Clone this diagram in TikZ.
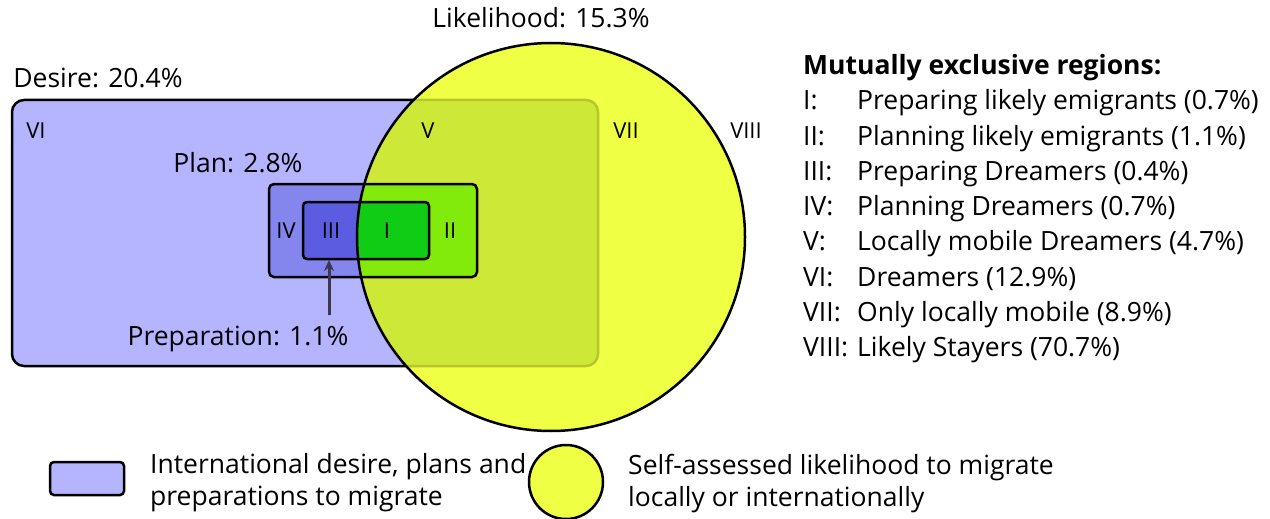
\documentclass[tikz,border=0pt]{standalone}
\usepackage{fontspec}
\setmainfont{Open Sans}
\usetikzlibrary{arrows.meta}
\definecolor{desirefill}{HTML}{B4B4FF}
\definecolor{likelyfill}{HTML}{EEFF44}
\definecolor{overlapfill}{HTML}{CEE838}
\definecolor{overlapline}{HTML}{B4C82C}
\definecolor{planout}{HTML}{8585EE}
\definecolor{planin}{HTML}{82EB0C}
\definecolor{prepout}{HTML}{5C5CE0}
\definecolor{prepin}{HTML}{10CC14}
\definecolor{arrowgray}{HTML}{3A3A4A}
\begin{document}
\begin{tikzpicture}[x=1pt, y=-1pt,
    lbl/.style={font=\fontsize{26.5}{31}\selectfont, inner sep=0pt, anchor=base},
    region/.style={font=\fontsize{22}{26}\selectfont, inner sep=0pt, anchor=base},
    item/.style={font=\fontsize{26.5}{31}\selectfont, inner sep=0pt, anchor=base west},
    outline/.style={line width=2.5pt}]
    \useasboundingbox (0,0) rectangle (1270,519);

    \coordinate (ctr) at (551,237);
    \coordinate (desireA) at (12,100);
    \coordinate (desireB) at (598,366);
    \coordinate (planA) at (269,184);
    \coordinate (planB) at (477,277);
    \coordinate (prepA) at (303,202);
    \coordinate (prepB) at (429,259);
    \coordinate (preptip) at (329,260);

    \filldraw[fill=desirefill, outline, rounded corners=12pt] (desireA) rectangle (desireB);
    \fill[planout, rounded corners=5pt] (planA) rectangle (planB);
    \fill[prepout, rounded corners=4pt] (prepA) rectangle (prepB);
    \fill[likelyfill] (ctr) circle[radius=194pt];
    \begin{scope}
        \clip (ctr) circle[radius=194pt];
        \filldraw[fill=overlapfill, draw=overlapline, outline, rounded corners=12pt] (desireA) rectangle (desireB);
        \fill[planin, rounded corners=5pt] (planA) rectangle (planB);
        \fill[prepin, rounded corners=4pt] (prepA) rectangle (prepB);
    \end{scope}
    \draw[outline] (ctr) circle[radius=194pt];
    \draw[outline, rounded corners=5pt] (planA) rectangle (planB);
    \draw[outline, rounded corners=4pt] (prepA) rectangle (prepB);

    \node[lbl] (likelihood) at (541,28) {Likelihood: 15.3\%};
    \node[lbl] (desire) at (98,88) {Desire: 20.4\%};
    \node[lbl] (plan) at (238,172) {Plan: 2.8\%};
    \node[lbl] (preparation) at (238,345) {Preparation: 1.1\%};
    \draw[-{Stealth[length=11pt, width=10pt]}, line width=3pt, arrowgray] ([yshift=10pt]preparation.north -| preptip) -- (preptip);

    \node[region] (r6) at (36,138) {VI};
    \node[region] (r5) at (428,138) {V};
    \node[region] (r7) at (626,138) {VII};
    \node[region] (r8) at (746,138) {VIII};
    \node[region] (r4) at (286,238) {IV};
    \node[region] (r3) at (331,238) {III};
    \node[region] (r1) at (387,238) {I};
    \node[region] (r2) at (450,238) {II};

    \node[item] (title) at (803,75) {\bfseries Mutually exclusive regions:};
    \foreach \lab/\txt [count=\i] in {I:/Preparing likely emigrants (0.7\%),
            II:/Planning likely emigrants (1.1\%),
            III:/Preparing Dreamers (0.4\%),
            IV:/Planning Dreamers (0.7\%),
            V:/Locally mobile Dreamers (4.7\%),
            VI:/Dreamers (12.9\%),
            VII:/Only locally mobile (8.9\%),
            VIII:/Likely Stayers (70.7\%)} {
        \node[item] (lab\i) at (803,{110+35.2*(\i-1)}) {\lab};
        \node[item] (txt\i) at (857,{110+35.2*(\i-1)}) {\txt};
    }

    \filldraw[fill=desirefill, outline, rounded corners=4pt] (50,462) rectangle (124,495);
    \node[item] (legA1) at (150,473) {International desire, plans and};
    \node[item] (legA2) at (150,505) {preparations to migrate};
    \filldraw[fill=likelyfill, outline] (566,482) ellipse[x radius=37pt, y radius=37pt];
    \node[item] (legB1) at (628,474) {Self-assessed likelihood to migrate};
    \node[item] (legB2) at (628,506) {locally or internationally};
\end{tikzpicture}
\end{document}
